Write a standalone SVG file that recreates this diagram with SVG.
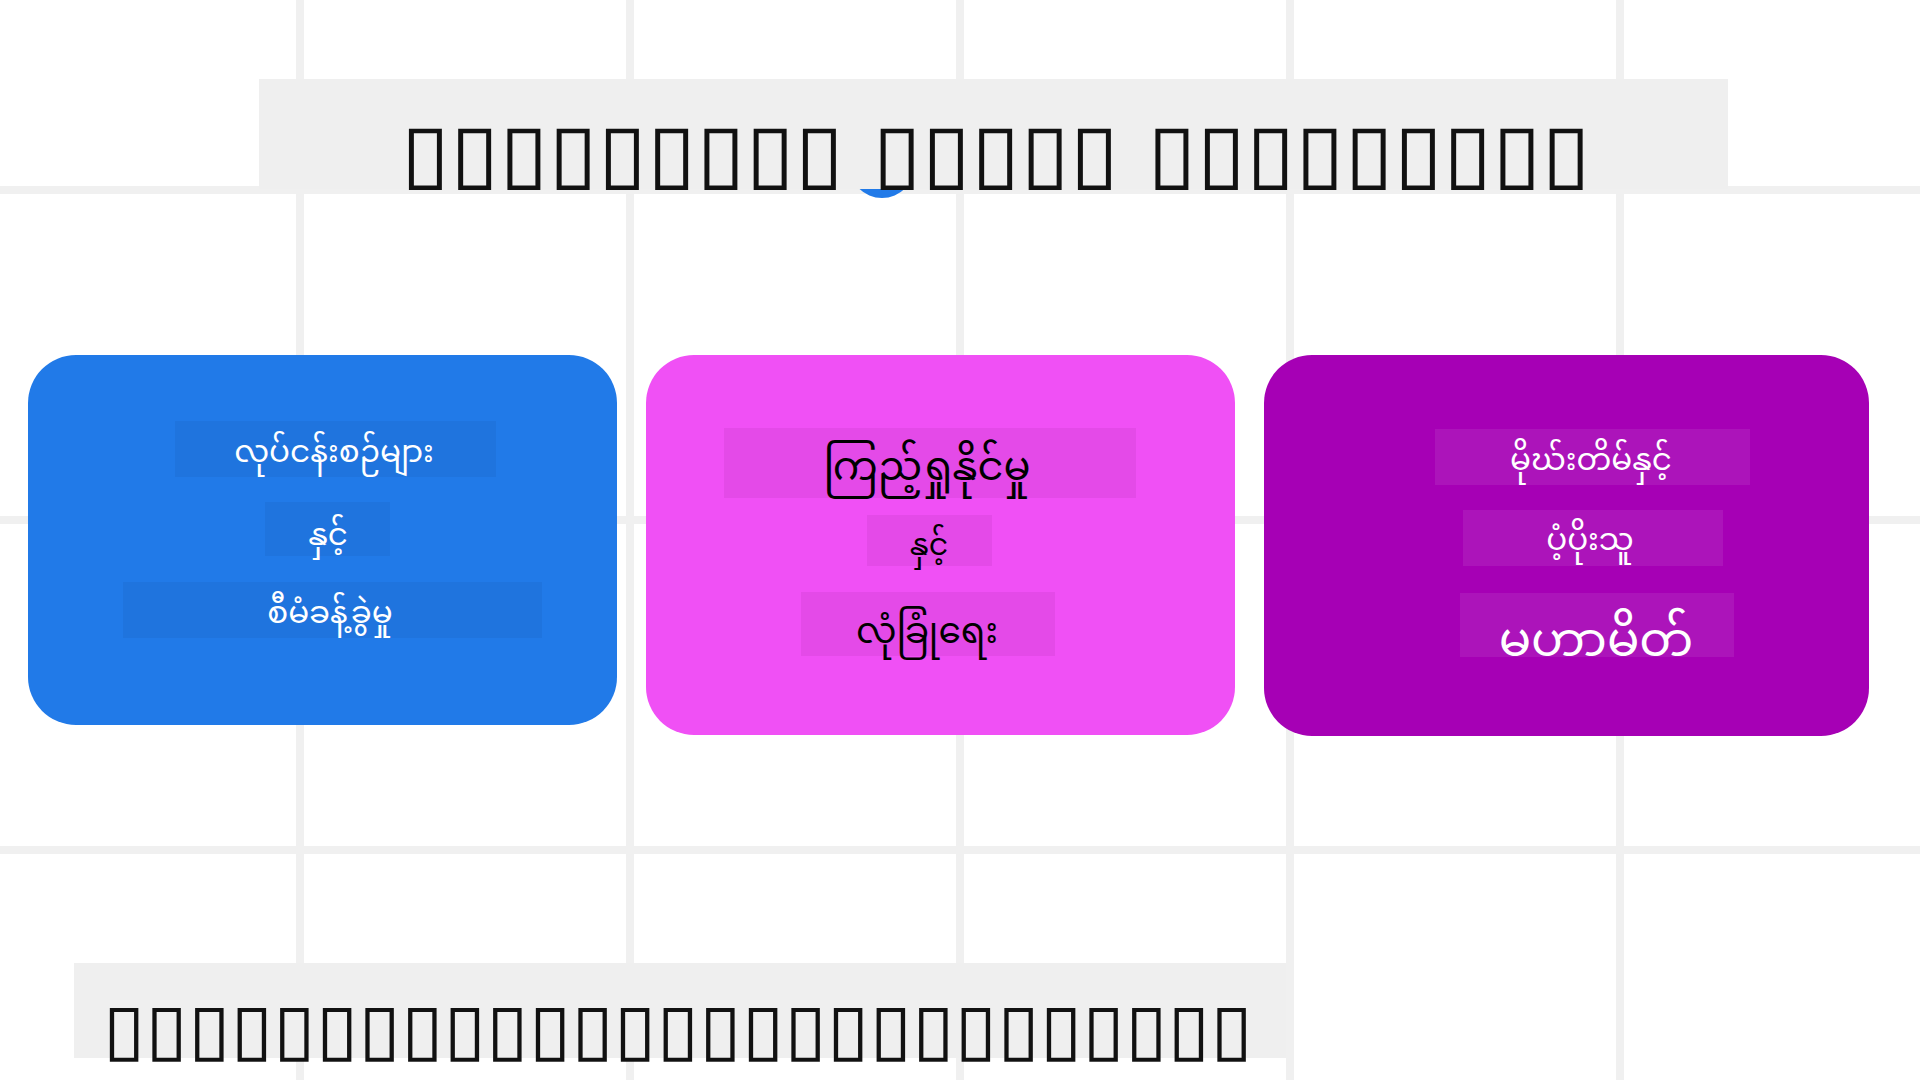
<svg xmlns="http://www.w3.org/2000/svg" width="1920" height="1080" viewBox="0 0 1920 1080">
<style>
.grid{stroke:#f0f0f0;stroke-width:8;fill:none}
.bar{fill:#efefef}
.tofu{font-family:"DejaVu Sans",sans-serif;fill:#111}
.my{font-family:"Noto Sans Myanmar","Noto Sans",sans-serif;text-anchor:middle}
.w{fill:#ffffff}
.k{fill:#000000}
</style>
<rect x="0" y="0" width="1920" height="1080" fill="#ffffff"/>
<g id="grid">
<path class="grid" d="M300 0V1080M630 0V1080M960 0V1080M1290 0V1080M1620 0V1080M0 190H1920M0 520H1920M0 850H1920"/>
</g>
<circle cx="882" cy="165" r="33" fill="#217ae8"/>
<g id="title">
<rect class="bar" x="259" y="79" width="1469" height="110"/>
<text class="tofu" x="401" y="180" font-size="80" textLength="1190" lengthAdjust="spacingAndGlyphs">▯▯▯▯▯▯▯▯▯ ▯▯▯▯▯ ▯▯▯▯▯▯▯▯▯</text>
</g>
<g id="connectors"></g>
<g id="node1">
<rect x="28" y="355" width="589" height="370" rx="48" fill="#217ae8"/>
<rect x="175" y="421" width="321" height="56" fill="#1f74de"/>
<rect x="265" y="502" width="125" height="54" fill="#1f74de"/>
<rect x="123" y="582" width="419" height="56" fill="#1f74de"/>
<text class="my w" x="334" y="462" font-size="31">လုပ်ငန်းစဉ်များ</text>
<text class="my w" x="328" y="545" font-size="31">နှင့်</text>
<text class="my w" x="330" y="623" font-size="31">စီမံခန့်ခွဲမှု</text>
</g>
<g id="node2">
<rect x="646" y="355" width="589" height="380" rx="48" fill="#f050f5"/>
<rect x="724" y="428" width="412" height="70" fill="#e44ae8"/>
<rect x="867" y="515" width="125" height="51" fill="#e44ae8"/>
<rect x="801" y="592" width="254" height="64" fill="#e44ae8"/>
<text class="my k" x="927" y="480" font-size="40">ကြည့်ရှုနိုင်မှု</text>
<text class="my k" x="929" y="555" font-size="30">နှင့်</text>
<text class="my k" x="927" y="643" font-size="36">လုံခြုံရေး</text>
</g>
<g id="node3">
<rect x="1264" y="355" width="605" height="381" rx="48" fill="#a600b5"/>
<rect x="1435" y="429" width="315" height="56" fill="#ac14ba"/>
<rect x="1463" y="510" width="260" height="56" fill="#ac14ba"/>
<rect x="1460" y="593" width="274" height="64" fill="#ac14ba"/>
<text class="my w" x="1591" y="470" font-size="31">မိုဃ်းတိမ်နှင့်</text>
<text class="my w" x="1590" y="550" font-size="31">ပံ့ပိုးသူ</text>
<text class="my w" x="1596" y="656" font-size="48">မဟာမိတ်</text>
</g>
<g id="footer">
<rect class="bar" x="74" y="963" width="1212" height="95"/>
<text class="tofu" x="103" y="1053" font-size="70" textLength="1150" lengthAdjust="spacingAndGlyphs">▯▯▯▯▯▯▯▯▯▯▯▯▯▯▯▯▯▯▯▯▯▯▯▯▯▯▯</text>
</g>
</svg>
